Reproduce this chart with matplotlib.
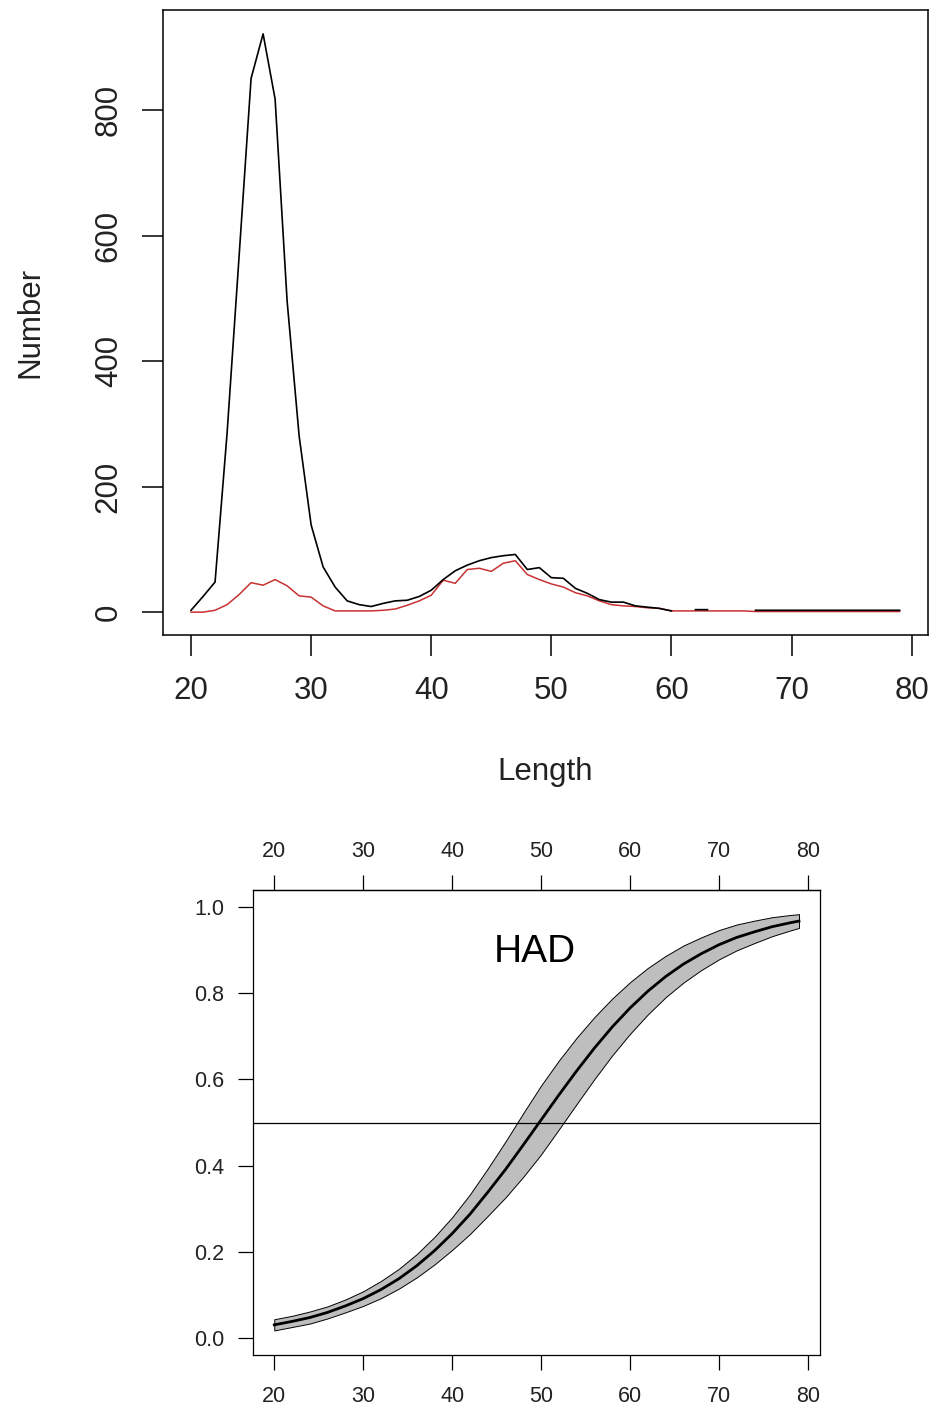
import numpy as np
import matplotlib
matplotlib.use("Agg")
from matplotlib import pyplot as plt

plt.rcParams['font.family'] = ['Liberation Sans', 'DejaVu Sans']

# length classes (cm) for the length distribution
length = list(range(20, 80))

# total catch numbers at length (black), gaps where nothing was recorded
number_all = [3, 25, 48, 285, 567, 851, 922, 818, 496, 281,
              139, 72, 40, 18, 12, 9, 14, 18, 19, 25,
              35, 52, 66, 75, 82, 87, 90, 92, 68, 71,
              55, 54, 38, 30, 20, 16, 16, 10, 8, 6,
              2, np.nan, 4, 4, np.nan, np.nan, np.nan, 3, 3, 3,
              3, 3, 3, 3, 3, 3, 3, 3, 3, 3]

# mature numbers at length (red)
number_mat = [0, 0, 3, 12, 28, 47, 43, 52, 42, 26,
              24, 10, 2, 2, 2, 2, 3, 5, 11, 18,
              27, 51, 46, 68, 70, 65, 78, 82, 60, 52,
              45, 40, 31, 26, 18, 12, 10, 9, 7, 6,
              2, 2, 2, 2, 2, 2, 2, 1, 1, 1,
              1, 1, 1, 1, 1, 1, 1, 1, 1, 1]

# maturity ogive for HAD, with confidence band
ogive_len = [20, 22, 24, 26, 28, 30, 32, 34, 36, 38, 40, 42, 44, 46, 48, 50,
             52, 54, 56, 58, 60, 62, 64, 66, 68, 70, 72, 74, 76, 78, 79]
ogive_mid = [0.030, 0.038, 0.047, 0.059, 0.074, 0.091, 0.112, 0.137, 0.167, 0.202,
             0.242, 0.287, 0.338, 0.391, 0.448, 0.506, 0.564, 0.620, 0.673, 0.722,
             0.766, 0.805, 0.839, 0.868, 0.892, 0.913, 0.930, 0.943, 0.955, 0.964, 0.968]
ogive_lo = [0.017, 0.025, 0.033, 0.045, 0.059, 0.074, 0.092, 0.114, 0.140, 0.170,
            0.204, 0.241, 0.283, 0.326, 0.374, 0.426, 0.484, 0.543, 0.601, 0.656,
            0.706, 0.751, 0.791, 0.825, 0.854, 0.879, 0.900, 0.917, 0.933, 0.946, 0.952]
ogive_hi = [0.043, 0.051, 0.061, 0.073, 0.089, 0.108, 0.132, 0.160, 0.194, 0.234,
            0.280, 0.333, 0.393, 0.456, 0.522, 0.586, 0.644, 0.697, 0.745, 0.788,
            0.826, 0.859, 0.887, 0.911, 0.930, 0.947, 0.960, 0.969, 0.977, 0.982, 0.984]

xticks = [20, 30, 40, 50, 60, 70, 80]
yticks_top = [0, 200, 400, 600, 800]
yticks_bot = [0.0, 0.2, 0.4, 0.6, 0.8, 1.0]

fig = plt.figure(figsize=(9.35, 14.11), dpi=100)

# ---- top: numbers at length ----
ax = fig.add_axes([0.174, 0.5497, 0.8185, 0.4432])
ax.plot(length, number_mat, color='#c83232', lw=1.1)
ax.plot(length, number_all, color='black', lw=1.2)
ax.set_xlim(17.64, 81.36)
ax.set_ylim(-37, 960)
ax.set_xticks(xticks)
ax.set_yticks(yticks_top)
ax.tick_params(axis='both', direction='out', length=15, width=1.1,
               labelsize=22.5, colors='black', labelcolor='#222222')
ax.tick_params(axis='x', pad=14)
ax.tick_params(axis='y', pad=13, labelrotation=90)
for lab in ax.get_yticklabels():
    lab.set_va('center')
for s in ax.spines.values():
    s.set_linewidth(1.1)
ax.set_xlabel('Length', fontsize=22.5, color='#222222')
ax.set_ylabel('Number', fontsize=22.5, color='#222222')
ax.xaxis.set_label_coords(0.5, -0.195)
ax.yaxis.set_label_coords(-0.153, 0.5)

# ---- bottom: maturity ogive ----
ax2 = fig.add_axes([0.2709, 0.0397, 0.6061, 0.3295])
ax2.fill_between(ogive_len, ogive_lo, ogive_hi, facecolor='#bebebe',
                 edgecolor='black', lw=0.7)
ax2.plot(ogive_len, ogive_mid, color='black', lw=2.0)
ax2.axhline(0.5, color='black', lw=0.9)
ax2.text(49.3, 0.895, 'HAD', fontsize=28, ha='center', va='center')
ax2.set_xlim(17.64, 81.36)
ax2.set_ylim(-0.04, 1.04)
ax2.set_xticks(xticks)
ax2.set_yticks(yticks_bot)
ax2.set_yticklabels(['0.0', '0.2', '0.4', '0.6', '0.8', '1.0'])
ax2.tick_params(axis='both', direction='out', length=11, width=0.9,
                labelsize=15.5, labelcolor='#222222')
ax2.tick_params(axis='x', pad=11)
ax2.tick_params(axis='y', pad=10)
for s in ax2.spines.values():
    s.set_linewidth(0.9)
top = ax2.secondary_xaxis('top')
top.set_xticks(xticks)
top.tick_params(direction='out', length=11, width=0.9, labelsize=15.5,
                labelcolor='#222222', pad=9)
top.spines['top'].set_linewidth(0.9)

fig.savefig('out.png', dpi=100)
